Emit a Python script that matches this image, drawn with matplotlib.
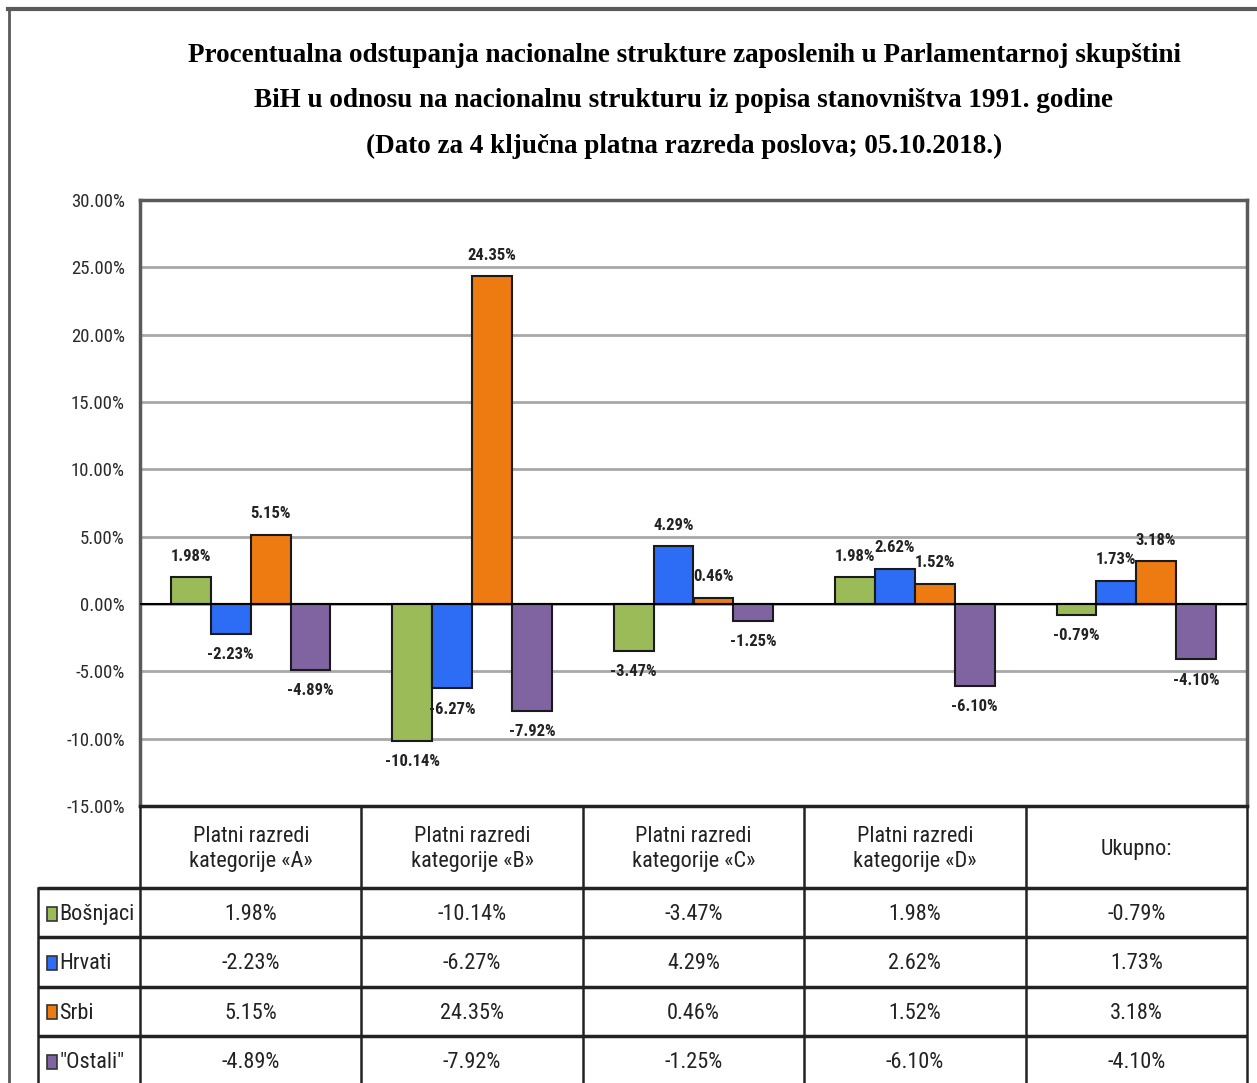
import numpy as np
import matplotlib
matplotlib.use("Agg")
import matplotlib.pyplot as plt
from matplotlib.lines import Line2D
from matplotlib.patches import Rectangle

narrow = ['Roboto Condensed', 'Liberation Sans Narrow', 'DejaVu Sans']
serif = ['Liberation Serif', 'DejaVu Serif']

title = ("Procentualna odstupanja nacionalne strukture zaposlenih u Parlamentarnoj skupštini\n"
         "BiH u odnosu na nacionalnu strukturu iz popisa stanovništva 1991. godine\n"
         "(Dato za 4 ključna platna razreda poslova; 05.10.2018.)")

categories = ["Platni razredi\nkategorije «A»", "Platni razredi\nkategorije «B»",
              "Platni razredi\nkategorije «C»", "Platni razredi\nkategorije «D»", "Ukupno:"]
series = ["Bošnjaci", "Hrvati", "Srbi", "\"Ostali\""]
bosnjaci = [1.98, -10.14, -3.47, 1.98, -0.79]
hrvati = [-2.23, -6.27, 4.29, 2.62, 1.73]
srbi = [5.15, 24.35, 0.46, 1.52, 3.18]
ostali = [-4.89, -7.92, -1.25, -6.10, -4.10]
values = [bosnjaci, hrvati, srbi, ostali]
colors = ["#9bbb59", "#2d6cf5", "#ee7a12", "#8064a2"]
yticks = np.arange(-15, 31, 5)

W, H = 1257, 1083
fig = plt.figure(figsize=(W / 100, H / 100), dpi=100)
fig.patch.set_facecolor("white")

# outer frame
fig.add_artist(Line2D([8 / W, 1], [1 - 9 / H, 1 - 9 / H], color="#5a5a5a", lw=3))
fig.add_artist(Line2D([9 / W, 9 / W], [0, 1 - 8 / H], color="#5a5a5a", lw=2))

fig.text(684 / W, 1 - 101 / H, title, ha="center", va="center", family=serif,
         fontweight="bold", fontsize=19.5, linespacing=2.05)

left, right, top, bot = 140, 1247, 200, 806
ax = fig.add_axes([left / W, 1 - bot / H, (right - left) / W, (bot - top) / H])
x = np.arange(len(categories))
w = 0.18
for i, (vals, c) in enumerate(zip(values, colors)):
    bars = ax.bar(x + (i - 1.5) * w, vals, w, color=c, edgecolor="#1a1a1a", lw=1.5, zorder=3)
    for b, v in zip(bars, vals):
        off = 15 if v >= 0 else -15
        ax.annotate(f"{v:.2f}%", (b.get_x() + b.get_width() / 2, v), xytext=(0, off),
                    textcoords="offset points", ha="center", va="center",
                    family=narrow, fontstretch="condensed", fontweight="bold",
                    fontsize=12, color="#222")
ax.set_xlim(-0.5, 4.5)
ax.set_ylim(-15, 30)
ax.set_yticks(yticks)
ax.set_yticklabels([f"{t:.2f}%" for t in yticks], family=narrow, fontstretch="condensed",
                   fontsize=13.5, color="#2a2a2a")
ax.tick_params(axis="y", length=0, pad=11)
ax.set_xticks([])
ax.grid(axis="y", color="#a8a8a8", lw=2, zorder=0)
ax.axhline(0, color="black", lw=1.5, zorder=4)
for s in ["left", "top", "right"]:
    ax.spines[s].set_color("#5a5a5a")
    ax.spines[s].set_linewidth(2.5)
ax.spines["bottom"].set_color("#222")
ax.spines["bottom"].set_linewidth(2.5)

# data table under the chart
tax = fig.add_axes([left / W, 0, (right - left) / W, (H - bot) / H])
tax.set_xlim(-0.5, 4.5)
tax.set_ylim(H - bot, 0)
tax.axis("off")
unit = (right - left) / 5
lab_l = -0.5 - (left - 38) / unit
head = 82
row_h = 49.3
lc = "#222"
for k in range(5):
    tax.text(k, head / 2 + 2, categories[k], ha="center", va="center", family=narrow,
             fontstretch="condensed", fontsize=16, color="#222", linespacing=1.3)
for r in range(4):
    y0 = head + r * row_h
    tax.plot([lab_l, 4.5], [y0, y0], color=lc, lw=2.5, clip_on=False, solid_capstyle="butt")
    yc = y0 + row_h / 2 + 2
    tax.add_patch(Rectangle((lab_l + 0.04, yc - 8), 0.045, 14, facecolor=colors[r],
                            edgecolor="#333", lw=1.2, clip_on=False))
    tax.text(lab_l + 0.095, yc, series[r], ha="left", va="center", family=narrow,
             fontstretch="condensed", fontsize=16, color="#222")
    for k in range(5):
        tax.text(k, yc, f"{values[r][k]:.2f}%", ha="center", va="center", family=narrow,
                 fontstretch="condensed", fontsize=16, color="#222")
for k in range(6):
    xv = k - 0.5
    tax.plot([xv, xv], [0, H - bot + 5], color=lc, lw=1.8, clip_on=False)
tax.plot([lab_l, lab_l], [head, H - bot + 5], color=lc, lw=1.8, clip_on=False)

fig.savefig("out.png", dpi=100, facecolor="white")
